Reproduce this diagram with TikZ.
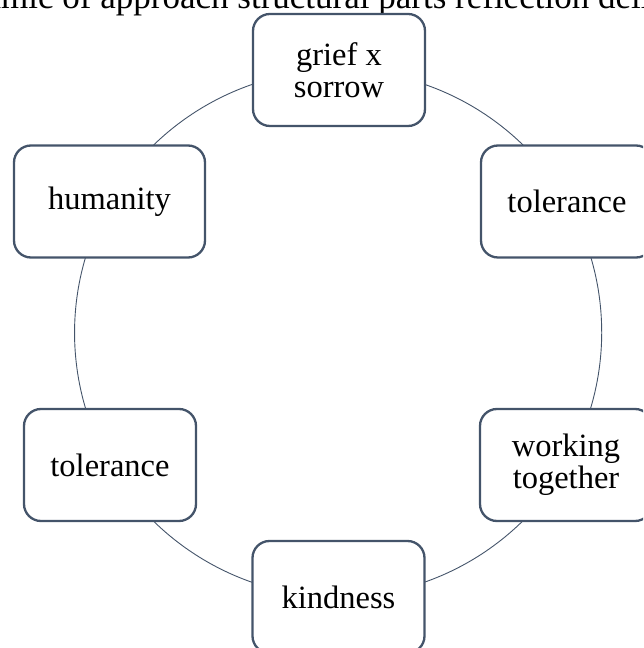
\documentclass[tikz,border=0pt]{standalone}
\usepackage{fontspec}
\setmainfont{Liberation Serif}
\usetikzlibrary{backgrounds}
\definecolor{slate}{HTML}{44546A}

\begin{document}
\begin{tikzpicture}[x=1pt,y=1pt,
    box/.style={draw=slate,line width=2.3pt,rounded corners=17pt,fill=white,
      minimum width=172pt,minimum height=112pt,align=center,inner sep=0pt,
      font=\fontsize{32.5}{32}\selectfont},
    ring/.style={draw=slate,line width=0.9pt,bend left=30,looseness=0.91}]
  \useasboundingbox (0,0) rectangle (643,648);
  \clip (0,0) rectangle (643,648);
  % cut-off line of text above the cycle
  \node[anchor=base west,inner sep=0pt,font=\fontsize{35}{38}\selectfont] (line) at (-67,639) {dynamic of approach structural parts reflection delivers};
  % the six boxes
  \node[box] (grief) at (339,578) {grief x\\sorrow};
  \node[box] (tolR) at (567,446.5) {tolerance};
  \node[box] (work) at (566,183) {working\\together};
  \node[box] (kind) at (338.5,51) {kindness};
  \node[box] (tolL) at (110,183) {tolerance};
  \node[box,minimum width=191pt] (hum) at (109.5,446.5) {humanity};
  % arcs of the cycle
  \begin{scope}[on background layer]
    \draw[ring] (grief.center) to (tolR.center);
    \draw[ring] (tolR.center) to (work.center);
    \draw[ring] (work.center) to (kind.center);
    \draw[ring] (kind.center) to (tolL.center);
    \draw[ring] (tolL.center) to (hum.center);
    \draw[ring] (hum.center) to (grief.center);
  \end{scope}
\end{tikzpicture}
\end{document}
